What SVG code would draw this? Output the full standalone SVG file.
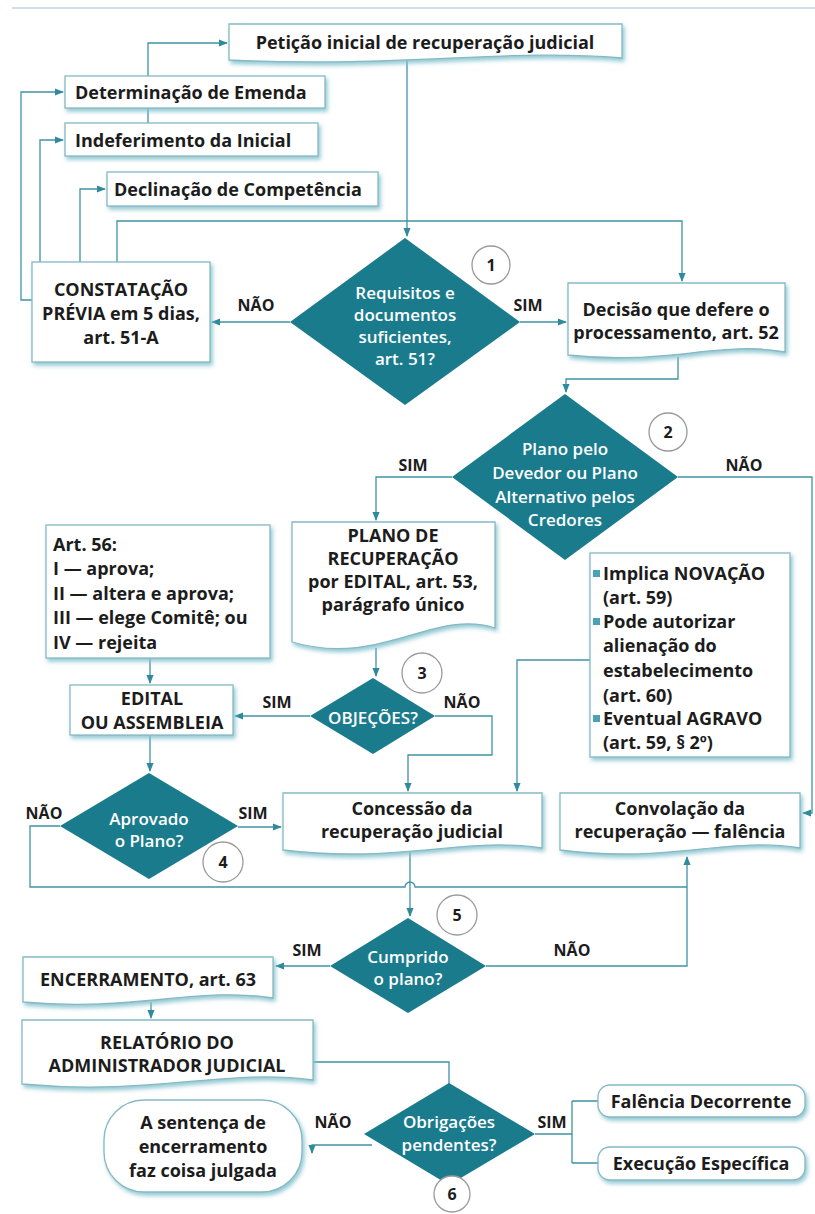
<svg xmlns="http://www.w3.org/2000/svg" width="815" height="1214" viewBox="0 0 815 1214">
<style>
.bx{fill:#ffffff;stroke:#86b9c3;stroke-width:1.3;filter:url(#sh)}
.t{font-family:"Open Sans","Liberation Sans",sans-serif;font-weight:700;font-size:18px;fill:#1c1c1c;dominant-baseline:central;text-anchor:middle}
.tl{text-anchor:start}
.dm{fill:#1a7b8c}
.dt{font-family:"Open Sans","Liberation Sans",sans-serif;font-weight:600;font-size:17px;fill:#ffffff;dominant-baseline:central;text-anchor:middle}
.lb{font-family:"Open Sans","Liberation Sans",sans-serif;font-weight:700;font-size:16px;fill:#1c1c1c;dominant-baseline:central;text-anchor:middle}
.cn{fill:none;stroke:#3f93a4;stroke-width:1.3}
.ar{marker-end:url(#ah)}
.cc{fill:#ffffff;stroke:#9a9a9a;stroke-width:1.3}
.bl{fill:#4aa3b3}
</style>
<defs>
<filter id="sh" x="-10%" y="-10%" width="125%" height="130%">
<feDropShadow dx="2" dy="3" stdDeviation="2.2" flood-color="#86c3cf" flood-opacity="0.9"/>
</filter>
<marker id="ah" viewBox="0 0 10 10" refX="9" refY="5" markerUnits="userSpaceOnUse" markerWidth="9" markerHeight="9" orient="auto">
<path d="M0,1 L10,5 L0,9 z" fill="#2f8a9c"/>
</marker>
</defs>
<rect width="815" height="1214" fill="#ffffff"/>
<line x1="12" y1="8" x2="815" y2="8" stroke="#cfe0e0" stroke-width="2"/>

<g id="connectors">
<path class="cn ar" d="M148,76 V43 H227"/>
<path class="cn" d="M148,108 V123"/>
<path class="cn ar" d="M34,300 H21 V92 H63"/>
<path class="cn ar" d="M40,262 V140 H63"/>
<path class="cn ar" d="M80,262 V189 H105"/>
<path class="cn ar" d="M117,262 V221 H682 V281"/>
<path class="cn ar" d="M407,60 V236"/>
<path class="cn ar" d="M290,322 H212"/>
<path class="cn ar" d="M520,322 H566"/>
<path class="cn ar" d="M678,357 V379 H566 V392"/>
<path class="cn ar" d="M452,477 H376 V520"/>
<path class="cn ar" d="M678,477 H812 V813 H803"/>
<path class="cn ar" d="M150,658 V683"/>
<path class="cn ar" d="M376,648 V676"/>
<path class="cn ar" d="M310,716 H235"/>
<path class="cn ar" d="M435,716 H492 V755 H408 V791"/>
<path class="cn ar" d="M590,660 H517 V791"/>
<path class="cn ar" d="M150,735 V771"/>
<path class="cn ar" d="M238,827 H281"/>
<path class="cn" d="M60,826 H30 V887 H405 A5,5 0 0 1 415,887 H687"/>
<path class="cn ar" d="M486,966 H687 V857"/>
<path class="cn ar" d="M410,852 V916"/>
<path class="cn ar" d="M330,966 H276"/>
<path class="cn ar" d="M151,1002 V1018"/>
<path class="cn" d="M313,1062 H449 V1084"/>
<path class="cn ar" d="M372,1145 H312 V1153"/>
<path class="cn" d="M535,1134 H572 M572,1101 V1163 M572,1101 H598 M572,1163 H598"/>
</g>

<g id="peticao">
<path class="bx" d="M229,24 H622 V58 C504,48 406,68 229,60 Z"/>
<text class="t" x="425" y="42">Petição inicial de recuperação judicial</text>
</g>
<g id="emenda">
<rect class="bx" x="65" y="76" width="260" height="32"/>
<text class="t tl" x="75" y="92">Determinação de Emenda</text>
</g>
<g id="indeferimento">
<rect class="bx" x="65" y="123" width="253" height="33"/>
<text class="t tl" x="75" y="140">Indeferimento da Inicial</text>
</g>
<g id="declinacao">
<rect class="bx" x="107" y="172" width="271" height="34"/>
<text class="t tl" x="114" y="189">Declinação de Competência</text>
</g>
<g id="constatacao">
<rect class="bx" x="32" y="262" width="178" height="100"/>
<text class="t" x="121" y="289">CONSTATAÇÃO</text>
<text class="t" x="121" y="313">PRÉVIA em 5 dias,</text>
<text class="t" x="121" y="337">art. 51-A</text>
</g>
<g id="decisao1">
<polygon class="dm" points="405,238 520,322 405,405 290,322"/>
<text class="dt" x="405" y="292">Requisitos e</text>
<text class="dt" x="405" y="314">documentos</text>
<text class="dt" x="405" y="336">suficientes,</text>
<text class="dt" x="405" y="358">art. 51?</text>
<circle class="cc" cx="491" cy="265" r="19"/>
<text class="lb" x="491" y="265">1</text>
<text class="lb" x="256" y="305">NÃO</text>
<text class="lb" x="528" y="305">SIM</text>
</g>
<g id="defere">
<path class="bx" d="M568,283 H785 V352 C720,340 666,366 568,355 Z"/>
<text class="t" x="676" y="309">Decisão que defere o</text>
<text class="t" x="676" y="332">processamento, art. 52</text>
</g>
<g id="decisao2">
<polygon class="dm" points="565,394 678,477 565,560 452,477"/>
<text class="dt" x="565" y="448">Plano pelo</text>
<text class="dt" x="565" y="472">Devedor ou Plano</text>
<text class="dt" x="565" y="496">Alternativo pelos</text>
<text class="dt" x="565" y="519">Credores</text>
<circle class="cc" cx="668" cy="432" r="19"/>
<text class="lb" x="668" y="432">2</text>
<text class="lb" x="413" y="465">SIM</text>
<text class="lb" x="744" y="465">NÃO</text>
</g>
<g id="plano">
<path class="bx" d="M292,522 H495 V628 C434,608 380,668 292,642 Z"/>
<text class="t" x="393" y="535" font-size="17">PLANO DE</text>
<text class="t" x="393" y="558" font-size="17">RECUPERAÇÃO</text>
<text class="t" x="393" y="581" font-size="17">por EDITAL, art. 53,</text>
<text class="t" x="393" y="604" font-size="17">parágrafo único</text>
</g>
<g id="art56">
<rect class="bx" x="46" y="525" width="224" height="133"/>
<text class="t tl" x="53" y="544">Art. 56:</text>
<text class="t tl" x="53" y="568">I — aprova;</text>
<text class="t tl" x="53" y="593">II — altera e aprova;</text>
<text class="t tl" x="53" y="617">III — elege Comitê; ou</text>
<text class="t tl" x="53" y="642">IV — rejeita</text>
</g>
<g id="efeitos">
<rect class="bx" x="590" y="553" width="200" height="204"/>
<rect class="bl" x="593" y="570" width="7" height="7"/>
<rect class="bl" x="593" y="618" width="7" height="7"/>
<rect class="bl" x="593" y="715" width="7" height="7"/>
<text class="t tl" x="603" y="573">Implica NOVAÇÃO</text>
<text class="t tl" x="603" y="597">(art. 59)</text>
<text class="t tl" x="603" y="621">Pode autorizar</text>
<text class="t tl" x="603" y="645">alienação do</text>
<text class="t tl" x="603" y="670">estabelecimento</text>
<text class="t tl" x="603" y="695">(art. 60)</text>
<text class="t tl" x="603" y="718">Eventual AGRAVO</text>
<text class="t tl" x="603" y="742">(art. 59, § 2º)</text>
</g>
<g id="edital">
<rect class="bx" x="70" y="685" width="163" height="50"/>
<text class="t" x="152" y="698">EDITAL</text>
<text class="t" x="152" y="722">OU ASSEMBLEIA</text>
</g>
<g id="decisao3">
<polygon class="dm" points="373,678 435,716 373,754 310,716"/>
<text class="dt" x="373" y="717" font-size="18">OBJEÇÕES?</text>
<circle class="cc" cx="422" cy="673" r="20"/>
<text class="lb" x="422" y="673">3</text>
<text class="lb" x="277" y="702">SIM</text>
<text class="lb" x="462" y="702">NÃO</text>
</g>
<g id="concessao">
<path class="bx" d="M283,793 H542 V848 C464,836 400,864 283,850 Z"/>
<text class="t" x="412" y="808">Concessão da</text>
<text class="t" x="412" y="831">recuperação judicial</text>
</g>
<g id="convolacao">
<path class="bx" d="M560,793 H800 V848 C728,836 668,864 560,850 Z"/>
<text class="t" x="680" y="808">Convolação da</text>
<text class="t" x="680" y="831">recuperação — falência</text>
</g>
<g id="decisao4">
<polygon class="dm" points="149,773 238,826 149,879 60,826"/>
<text class="dt" x="149" y="818">Aprovado</text>
<text class="dt" x="149" y="840">o Plano?</text>
<circle class="cc" cx="223" cy="862" r="20"/>
<text class="lb" x="223" y="862">4</text>
<text class="lb" x="253" y="813">SIM</text>
<text class="lb" x="44" y="813">NÃO</text>
</g>
<g id="decisao5">
<polygon class="dm" points="408,918 486,966 408,1013 330,966"/>
<text class="dt" x="408" y="956">Cumprido</text>
<text class="dt" x="408" y="978">o plano?</text>
<circle class="cc" cx="457" cy="915" r="20"/>
<text class="lb" x="457" y="915">5</text>
<text class="lb" x="307" y="950">SIM</text>
<text class="lb" x="572" y="950">NÃO</text>
</g>
<g id="encerramento">
<path class="bx" d="M23,957 H273 V998 C198,986 136,1012 23,1002 Z"/>
<text class="t" x="148" y="979">ENCERRAMENTO, art. 63</text>
</g>
<g id="relatorio">
<path class="bx" d="M22,1020 H313 V1080 C226,1068 153,1096 22,1084 Z"/>
<text class="t" x="167" y="1042">RELATÓRIO DO</text>
<text class="t" x="167" y="1065">ADMINISTRADOR JUDICIAL</text>
</g>
<g id="decisao6">
<polygon class="dm" points="449,1083 535,1134 449,1185 364,1134"/>
<text class="dt" x="449" y="1121">Obrigações</text>
<text class="dt" x="449" y="1144">pendentes?</text>
<circle class="cc" cx="452" cy="1194" r="18"/>
<text class="lb" x="452" y="1194">6</text>
<text class="lb" x="333" y="1122">NÃO</text>
<text class="lb" x="552" y="1122">SIM</text>
</g>
<g id="sentenca">
<rect class="bx" x="104" y="1100" width="198" height="92" rx="40"/>
<text class="t" x="203" y="1122">A sentença de</text>
<text class="t" x="203" y="1146">encerramento</text>
<text class="t" x="203" y="1170">faz coisa julgada</text>
</g>
<g id="falencia">
<rect class="bx" x="598" y="1085" width="207" height="32" rx="12"/>
<text class="t" x="701" y="1101">Falência Decorrente</text>
</g>
<g id="execucao">
<rect class="bx" x="598" y="1147" width="207" height="33" rx="12"/>
<text class="t" x="701" y="1163">Execução Específica</text>
</g>
</svg>
